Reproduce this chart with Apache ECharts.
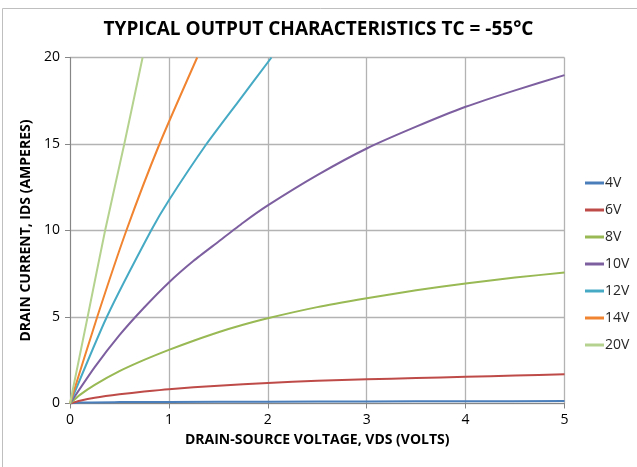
<!DOCTYPE html>
<html><head><meta charset="utf-8">
<script src="https://cdn.jsdelivr.net/npm/echarts@6/dist/echarts.min.js"></script>
<style>html,body{margin:0;padding:0;background:#fff}#c{width:637px;height:467px}</style>
</head><body><div id="c"></div>
<script>
var seriesNames = ['4V','6V','8V','10V','12V','14V','20V'];
var v4  = [[0,0],[0.1,0.06],[0.5,0.08],[1,0.09],[2,0.1],[3,0.12],[4,0.13],[5,0.14]];
var v6  = [[0,0],[0.1,0.16],[0.25,0.33],[0.5,0.53],[0.75,0.69],[1,0.83],[1.5,1.03],[2,1.19],[2.5,1.31],[3,1.4],[3.5,1.47],[4,1.54],[4.5,1.62],[5,1.69]];
var v8  = [[0,0],[0.1,0.5],[0.25,1.08],[0.5,1.87],[0.75,2.52],[1,3.1],[1.25,3.63],[1.5,4.12],[1.75,4.55],[2,4.93],[2.5,5.57],[3,6.08],[3.5,6.55],[4,6.94],[4.5,7.28],[5,7.57]];
var v10 = [[0,0],[0.25,2.1],[0.5,3.95],[0.75,5.55],[1,7.0],[1.25,8.25],[1.5,9.35],[1.75,10.45],[2,11.45],[2.5,13.2],[3,14.74],[3.5,16.0],[4,17.15],[4.5,18.1],[5,18.98]];
var v12 = [[0,0],[0.372,5],[0.82,10],[1,11.75],[1.38,15],[1.7,17.44],[2.037,20]];
var v14 = [[0,0],[0.275,5],[0.57,10],[0.905,15],[1.286,20]];
var v20 = [[0,0],[0.178,5],[0.355,10],[0.549,15],[0.734,20]];
var xTicks = [0,1,2,3,4,5];
var yTicks = [0,5,10,15,20];
var colors = ['#4A7EBB','#BE4B48','#98B954','#7D5FA0','#46AAC5','#F08430','#B5D38E'];
var allData = [v4,v6,v8,v10,v12,v14,v20];

var chart = echarts.init(document.getElementById('c'));
var font = "'Open Sans', 'Liberation Sans', sans-serif";
chart.setOption({
  animation:false,
  color: colors,
  textStyle:{fontFamily:font},
  graphic:[{type:'rect',shape:{x:2.5,y:8.5,width:700,height:600},style:{fill:'none',stroke:'#BFBFBF',lineWidth:1},z:-1}],
  title:{text:'TYPICAL OUTPUT CHARACTERISTICS TC = -55°C',left:'center',top:15,
    textStyle:{fontFamily:font,fontWeight:'bold',fontSize:19,color:'#000'}},
  legend:{orient:'vertical',left:580,top:171,itemGap:13,itemWidth:19,itemHeight:3,
    icon:'rect',data:seriesNames,textStyle:{fontSize:14,color:'#262626',padding:[0,0,0,-4]}},
  grid:{left:70,right:72.5,top:57.5,bottom:63.5},
  xAxis:{type:'value',min:0,max:5,interval:1,
    name:'DRAIN-SOURCE VOLTAGE, VDS (VOLTS)',nameLocation:'middle',nameGap:30,
    nameTextStyle:{fontWeight:'bold',fontSize:14,color:'#000'},
    axisLine:{lineStyle:{color:'#868686'}},axisTick:{show:true,length:5,lineStyle:{color:'#868686'}},
    axisLabel:{fontSize:14,color:'#000',margin:10},
    splitLine:{show:true,lineStyle:{color:'#B3B3B3',width:1.3}}},
  yAxis:{type:'value',min:0,max:20,interval:5,
    name:'DRAIN CURRENT, IDS (AMPERES)',nameLocation:'middle',nameGap:37,
    nameTextStyle:{fontWeight:'bold',fontSize:14,color:'#000'},
    axisLine:{show:true,lineStyle:{color:'#868686'}},axisTick:{show:true,length:5,lineStyle:{color:'#868686'}},
    axisLabel:{fontSize:14,color:'#000',margin:10},
    splitLine:{show:true,lineStyle:{color:'#B3B3B3',width:1.3}}},
  series: seriesNames.map(function(n,i){
    return {name:n,type:'line',data:allData[i],smooth:0.2,showSymbol:false,
      lineStyle:{width:2,join:'round'},clip:true};
  })
});
</script></body></html>
